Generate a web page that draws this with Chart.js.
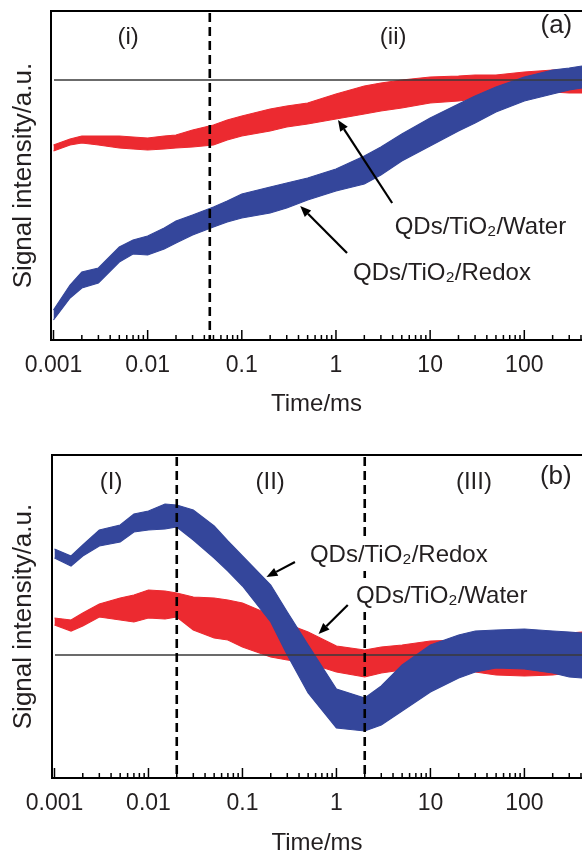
<!DOCTYPE html>
<html>
<head>
<meta charset="utf-8">
<script src="https://cdn.jsdelivr.net/npm/chart.js@4.4.1/dist/chart.umd.min.js"></script>
<style>
  html, body { margin: 0; padding: 0; background: #fff; width: 582px; height: 853px; overflow: hidden; }
  canvas { position: absolute; left: 0; }
  #panel-a { top: 0; }
  #panel-b { top: 426px; }
</style>
</head>
<body>
<canvas id="panel-a" width="582" height="420"></canvas>
<canvas id="panel-b" width="582" height="440"></canvas>
<script>
// time axis (ms), shared by both panels
const timeMs = [0.001, 0.0015, 0.002, 0.003, 0.005, 0.007, 0.01, 0.015, 0.02, 0.03, 0.05, 0.07,
  0.1, 0.2, 0.3, 0.5, 1, 2, 3, 5, 10, 20, 30, 50, 100, 200, 300, 410];
const timeTickLabels = ['0.001', '0.01', '0.1', '1', '10', '100'];

// (a) upper / lower edge of each noisy trace, a.u. (0 = reference line)
const waterA_hi = [-0.65, -0.59, -0.56, -0.56, -0.56, -0.57, -0.58, -0.56, -0.55, -0.50, -0.45, -0.40,
  -0.36, -0.29, -0.26, -0.23, -0.14, -0.06, -0.03, 0.00, 0.03, 0.04, 0.05, 0.05, 0.08, 0.10, 0.10, 0.11];
const waterA_lo = [-0.71, -0.65, -0.63, -0.65, -0.68, -0.69, -0.70, -0.69, -0.68, -0.67, -0.65, -0.60,
  -0.56, -0.51, -0.47, -0.44, -0.39, -0.34, -0.31, -0.28, -0.23, -0.21, -0.19, -0.16, -0.13, -0.12, -0.13, -0.13];
const redoxA_hi = [-2.30, -2.05, -1.92, -1.88, -1.67, -1.60, -1.56, -1.48, -1.41, -1.35, -1.27, -1.21,
  -1.14, -1.07, -1.03, -0.98, -0.89, -0.76, -0.67, -0.54, -0.38, -0.24, -0.16, -0.07, 0.03, 0.10, 0.12, 0.14];
const redoxA_lo = [-2.40, -2.18, -2.08, -2.03, -1.82, -1.74, -1.75, -1.69, -1.63, -1.55, -1.47, -1.42,
  -1.38, -1.33, -1.28, -1.20, -1.11, -1.04, -0.95, -0.81, -0.66, -0.51, -0.43, -0.32, -0.21, -0.14, -0.10, -0.08];

// (b)
const waterB_hi = [0.37, 0.35, 0.42, 0.51, 0.57, 0.60, 0.65, 0.64, 0.62, 0.58, 0.57, 0.55,
  0.52, 0.40, 0.31, 0.23, 0.09, 0.05, 0.08, 0.10, 0.14, 0.15, 0.17, 0.19, 0.19, 0.21, 0.22, 0.23];
const waterB_lo = [0.30, 0.24, 0.29, 0.38, 0.35, 0.33, 0.37, 0.36, 0.38, 0.25, 0.17, 0.15,
  0.08, -0.02, -0.05, -0.08, -0.17, -0.22, -0.18, -0.15, -0.12, -0.15, -0.17, -0.20, -0.21, -0.20, -0.18, -0.17];
const redoxB_hi = [1.06, 0.99, 1.10, 1.25, 1.30, 1.41, 1.44, 1.51, 1.50, 1.45, 1.29, 1.14,
  0.99, 0.70, 0.43, 0.10, -0.34, -0.43, -0.31, -0.10, 0.10, 0.20, 0.24, 0.25, 0.26, 0.24, 0.23, 0.22];
const redoxB_lo = [0.97, 0.89, 0.99, 1.09, 1.13, 1.23, 1.25, 1.26, 1.28, 1.15, 0.97, 0.84,
  0.69, 0.33, 0.00, -0.38, -0.73, -0.76, -0.70, -0.56, -0.37, -0.23, -0.17, -0.13, -0.14, -0.18, -0.22, -0.23];

const FONT = "'Liberation Sans', Arial, Helvetica, sans-serif";
const RED = '#ec2a30';
const BLUE = '#34469b';
const INK = '#231f20';

const pts = vals => timeMs.map((t, i) => ({ x: t, y: vals[i] }));

function band(label, hi, lo, color) {
  return [
    { label: label, data: pts(hi), borderColor: color, backgroundColor: color, borderWidth: 1.2,
      pointRadius: 0, fill: '+1', tension: 0 },
    { label: label + ' (lo)', data: pts(lo), borderColor: color, backgroundColor: color, borderWidth: 1.2,
      pointRadius: 0, fill: false, tension: 0 }
  ];
}

function drawArrow(ctx, x1, y1, x2, y2) {
  const ang = Math.atan2(y2 - y1, x2 - x1);
  const head = 11, half = 4.5;
  const bx = x2 - head * Math.cos(ang), by = y2 - head * Math.sin(ang);
  ctx.beginPath(); ctx.moveTo(x1, y1); ctx.lineTo(bx, by); ctx.stroke();
  ctx.beginPath();
  ctx.moveTo(x2, y2);
  ctx.lineTo(bx + half * Math.sin(ang), by - half * Math.cos(ang));
  ctx.lineTo(bx - half * Math.sin(ang), by + half * Math.cos(ang));
  ctx.closePath(); ctx.fill();
}

// frame, inward ticks, reference line, dashed dividers and labels
const overlay = {
  id: 'overlay',
  afterDatasetsDraw(chart, args, o) {
    const { ctx, chartArea: a } = chart;
    const x = chart.scales.x, y = chart.scales.y;
    ctx.save();

    const y0 = y.getPixelForValue(0);
    ctx.strokeStyle = '#3a3a3a'; ctx.lineWidth = 1.5;
    ctx.beginPath(); ctx.moveTo(a.left + 3, y0); ctx.lineTo(a.right, y0); ctx.stroke();

    ctx.strokeStyle = '#000'; ctx.lineWidth = 2.6; ctx.setLineDash([9, 5]);
    o.dividers.forEach(t => {
      const px = x.getPixelForValue(t);
      ctx.beginPath(); ctx.moveTo(px, a.top + 2); ctx.lineTo(px, a.bottom); ctx.stroke();
    });
    ctx.setLineDash([]);

    ctx.strokeStyle = '#000'; ctx.lineWidth = 2;
    ctx.beginPath();
    ctx.moveTo(a.right + 5, a.top); ctx.lineTo(a.left, a.top);
    ctx.lineTo(a.left, a.bottom); ctx.lineTo(a.right + 5, a.bottom);
    ctx.stroke();

    ctx.lineWidth = 1.5;
    x.ticks.forEach(tk => {
      const v = tk.value;
      const e = Math.floor(Math.log10(v) + 1e-9);
      const m = v / Math.pow(10, e);
      const r = Math.round(m);
      if (Math.abs(m - r) > 1e-6 || r < 1 || r > 9) return;
      const px = x.getPixelForValue(v);
      const len = r === 1 ? 10 : 5;
      ctx.beginPath(); ctx.moveTo(px, a.bottom); ctx.lineTo(px, a.bottom - len); ctx.stroke();
    });

    ctx.fillStyle = INK;
    ctx.textBaseline = 'middle';
    ctx.textAlign = 'center';
    ctx.font = '24px ' + FONT;
    o.regions.forEach(r => ctx.fillText(r.text, x.getPixelForValue(r.t), y.getPixelForValue(r.v)));
    ctx.font = '26px ' + FONT;
    ctx.fillText(o.tag.text, x.getPixelForValue(o.tag.t), y.getPixelForValue(o.tag.v));

    ctx.textAlign = 'left';
    ctx.font = '24px ' + FONT;
    ctx.strokeStyle = '#000'; ctx.lineWidth = 2.2;
    o.names.forEach(n => {
      const tx = x.getPixelForValue(n.t), ty = y.getPixelForValue(n.v);
      const w = ctx.measureText(n.text).width;
      ctx.fillStyle = '#fff';
      ctx.fillRect(tx - 3, ty - 18, w + 6, 34);
      ctx.fillStyle = INK;
      ctx.fillText(n.text, tx, ty);
      ctx.fillStyle = '#000';
      drawArrow(ctx, x.getPixelForValue(n.from[0]), y.getPixelForValue(n.from[1]),
        x.getPixelForValue(n.to[0]), y.getPixelForValue(n.to[1]));
    });
    ctx.restore();
  }
};

function makePanel(canvasId, datasets, yMin, yMax, pad, xFit, yFit, titlePad, notes) {
  return new Chart(document.getElementById(canvasId), {
    type: 'line',
    data: { datasets: datasets },
    plugins: [overlay],
    options: {
      responsive: false,
      animation: false,
      layout: { padding: pad },
      plugins: { legend: { display: false }, tooltip: { enabled: false }, overlay: notes },
      scales: {
        x: {
          type: 'logarithmic',
          min: 0.000941,
          max: 410,
          grid: { display: false, drawTicks: false },
          border: { display: false },
          afterFit: s => { s.height = xFit; s.paddingLeft = 0; s.paddingRight = 0; },
          ticks: {
            autoSkip: false,
            maxRotation: 0,
            padding: 12,
            color: INK,
            font: { family: FONT, size: 23 },
            callback: v => {
              const e = Math.log10(v);
              if (Math.abs(e - Math.round(e)) > 1e-6) return '';
              return timeTickLabels[Math.round(e) + 3] || '';
            }
          },
          title: { display: true, text: 'Time/ms', color: INK, padding: { top: 0, bottom: titlePad },
            font: { family: FONT, size: 24 } }
        },
        y: {
          min: yMin,
          max: yMax,
          grid: { display: false, drawTicks: false },
          border: { display: false },
          ticks: { display: false },
          afterFit: s => { s.width = yFit; },
          title: { display: true, text: 'Signal intensity/a.u.', color: INK, padding: 0,
            font: { family: FONT, size: 26 } }
        }
      }
    }
  });
}

makePanel('panel-a',
  [...band('QDs/TiO₂/Redox', redoxA_hi, redoxA_lo, BLUE), ...band('QDs/TiO₂/Water', waterA_hi, waterA_lo, RED)],
  -2.60, 0.69, { left: 8, top: 11, right: 0, bottom: 0 }, 80, 43, 1,
  {
    dividers: [0.0457],
    regions: [{ t: 0.0062, v: 0.43, text: '(i)' }, { t: 4.05, v: 0.43, text: '(ii)' }],
    tag: { t: 219, v: 0.54, text: '(a)' },
    names: [
      { t: 4.2, v: -1.47, text: 'QDs/TiO₂/Water', from: [3.95, -1.23], to: [1.05, -0.40] },
      { t: 1.52, v: -1.93, text: 'QDs/TiO₂/Redox', from: [1.31, -1.73], to: [0.417, -1.26] }
    ]
  });

makePanel('panel-b',
  [...band('QDs/TiO₂/Redox', redoxB_hi, redoxB_lo, BLUE), ...band('QDs/TiO₂/Water', waterB_hi, waterB_lo, RED)],
  -1.23, 2.00, { left: 8, top: 29, right: 0, bottom: 0 }, 88, 44, 8,
  {
    dividers: [0.02, 2],
    regions: [{ t: 0.0040, v: 1.73, text: '(I)' }, { t: 0.197, v: 1.73, text: '(II)' }, { t: 29, v: 1.73, text: '(III)' }],
    tag: { t: 216, v: 1.78, text: '(b)' },
    names: [
      { t: 0.522, v: 1.00, text: 'QDs/TiO₂/Redox', from: [0.362, 0.93], to: [0.180, 0.78] },
      { t: 1.61, v: 0.59, text: 'QDs/TiO₂/Water', from: [1.32, 0.50], to: [0.645, 0.21] }
    ]
  });
</script>
</body>
</html>
